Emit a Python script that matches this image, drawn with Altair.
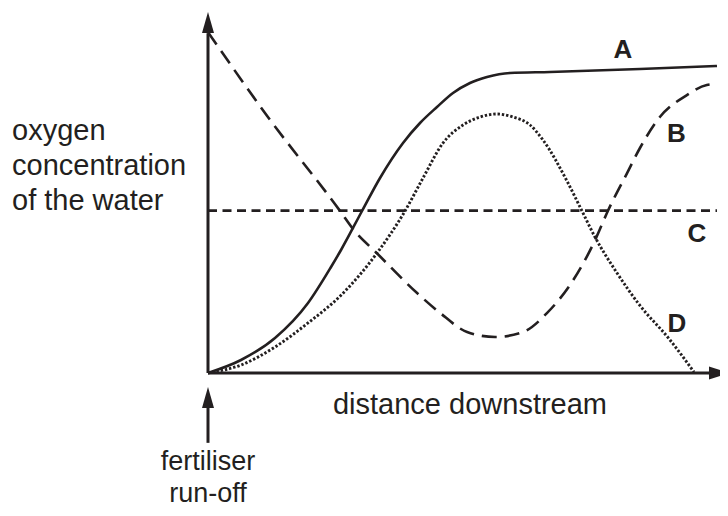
import altair as alt
import pandas as pd

# Curve data (distance downstream 0-100, oxygen concentration 0-100, arbitrary units)
a_x = [0, 6.47, 13.14, 19.61, 24.12, 26.08, 30.20, 33.73, 38.24, 41.57, 44.90, 48.04, 51.37, 54.71, 59.22, 67.06, 84.71, 99.8]
a_y = [0, 3.61, 9.72, 19.44, 29.44, 34.17, 45.0, 54.17, 63.89, 69.44, 73.89, 77.78, 80.56, 82.22, 83.33, 83.61, 84.44, 85.28]

b_x = [0, 11.6, 25.9, 28.6, 33.1, 41.0, 45.5, 50.8, 56.3, 61.8, 66.5, 71.6, 75.9, 78.4, 82.2, 84.7, 88.6, 93.9, 97.8, 99.8]
b_y = [94.7, 71.4, 45.0, 39.7, 33.3, 22.2, 16.7, 11.4, 10.0, 11.4, 16.7, 25.8, 36.9, 45.0, 55.6, 62.5, 71.1, 77.2, 80.0, 80.3]

c_x = [0, 99.8]
c_y = [45.1, 45.1]

d_x = [0, 6.47, 13.14, 19.61, 26.08, 33.14, 38.63, 42.16, 46.08, 50.0, 53.33, 56.67, 59.80, 63.14, 65.69, 70.39, 73.33, 75.88, 80.20, 84.31, 90.59, 95.29]
d_y = [0, 2.22, 7.22, 13.9, 21.6, 33.33, 45.0, 54.17, 63.89, 68.89, 71.11, 71.94, 71.11, 68.89, 64.72, 53.33, 45.0, 37.78, 27.78, 19.44, 9.17, 0.28]

curve_labels = ["A", "B", "C", "D"]
y_title_lines = ["oxygen", "concentration", "of the water"]
x_title = "distance downstream"
note_lines = ["fertiliser", "run-off"]

INK = "#231f20"
FONT = "Liberation Sans"

xs = alt.Scale(domain=[0, 100], range=[200, 710])
ys = alt.Scale(domain=[0, 100], range=[365, 5])


def curve(xv, yv, **mk):
    df = pd.DataFrame({"d": xv, "o": yv, "i": range(len(xv))})
    return alt.Chart(df).mark_line(color=INK, interpolate="monotone", clip=False, **mk).encode(
        x=alt.X("d:Q", scale=xs, axis=None),
        y=alt.Y("o:Q", scale=ys, axis=None),
        order="i:Q",
    )


line_a = curve(a_x, a_y, strokeWidth=2.6)
line_b = curve(b_x, b_y, strokeWidth=2.6, strokeDash=[15, 8])
line_c = curve(c_x, c_y, strokeWidth=2.6, strokeDash=[9, 5.5])
line_d = curve(d_x, d_y, strokeWidth=2.9, strokeDash=[2.4, 1.9])

# axes drawn as rules with arrowheads
axes_df = pd.DataFrame({"x1": [0, 0, 0], "y1": [0, 0, -9.7], "x2": [0, 99.8, 0], "y2": [94.4, 0, -19.4]})
axes = alt.Chart(axes_df).mark_rule(color=INK, strokeWidth=3).encode(
    x=alt.X("x1:Q", scale=xs, axis=None),
    y=alt.Y("y1:Q", scale=ys, axis=None),
    x2="x2:Q",
    y2="y2:Q",
)

up_df = pd.DataFrame({"x": [0, 0], "y": [97.36, -6.8]})
up_arrows = alt.Chart(up_df).mark_point(
    shape="M0,-1L0.571,1L-0.571,1Z", size=441, filled=True, color=INK, opacity=1, strokeWidth=0
).encode(x=alt.X("x:Q", scale=xs, axis=None), y=alt.Y("y:Q", scale=ys, axis=None))

right_df = pd.DataFrame({"x": [100.29], "y": [0]})
right_arrow = alt.Chart(right_df).mark_point(
    shape="M1,0L-1,0.62L-1,-0.62Z", size=441, filled=True, color=INK, opacity=1, strokeWidth=0
).encode(x=alt.X("x:Q", scale=xs, axis=None), y=alt.Y("y:Q", scale=ys, axis=None))


def txt(s, x, y, size=29, bold=False, align="center"):
    return alt.Chart(pd.DataFrame({"t": [s]})).mark_text(
        font=FONT, fontSize=size, fontWeight="bold" if bold else "normal",
        color=INK, align=align, baseline="alphabetic",
    ).encode(text="t:N", x=alt.value(x), y=alt.value(y))


texts = [
    txt(curve_labels[0], 615, 50, 26, True),
    txt(curve_labels[1], 668.5, 134, 26, True),
    txt(curve_labels[2], 689, 234, 26, True),
    txt(curve_labels[3], 669, 324, 26, True),
    txt(y_title_lines[0], 4, 132, align="left"),
    txt(y_title_lines[1], 4, 167, align="left"),
    txt(y_title_lines[2], 4, 202, align="left"),
    txt(x_title, 462, 406),
    txt(note_lines[0], 200, 462, 27),
    txt(note_lines[1], 200, 494, 27),
]

chart = alt.layer(line_c, line_b, line_d, line_a, axes, up_arrows, right_arrow, *texts).properties(
    width=712, height=500, padding=0, autosize=alt.AutoSizeParams(type="none"), background="white"
).configure_view(stroke=None)

chart.save("out.html", embed_options={"renderer": "svg", "actions": False})
